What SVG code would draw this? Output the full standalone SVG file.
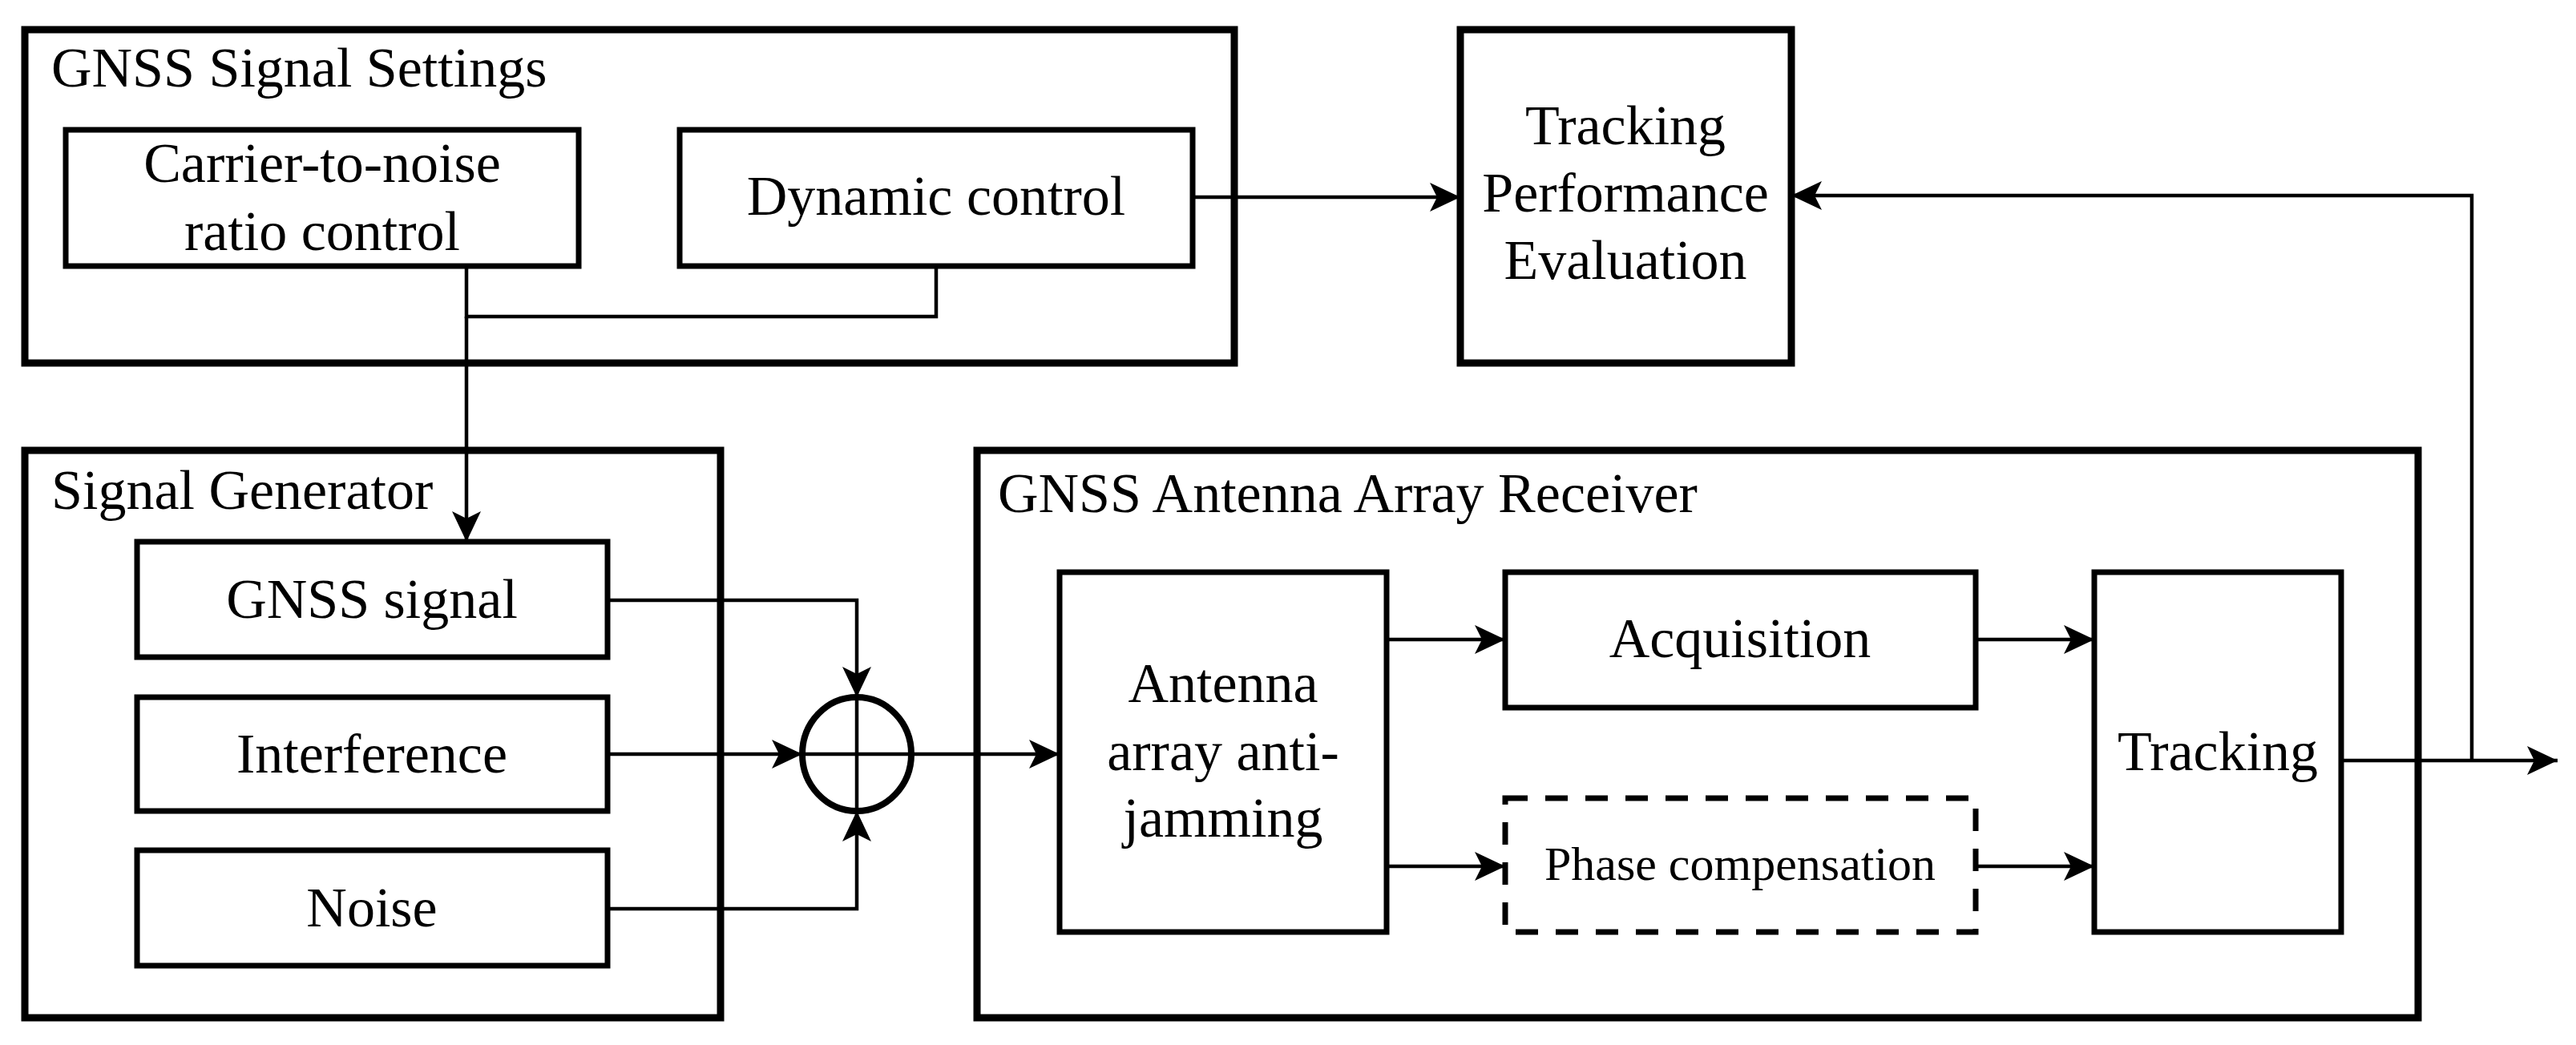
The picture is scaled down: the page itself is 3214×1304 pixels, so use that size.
<svg xmlns="http://www.w3.org/2000/svg" width="3214" height="1304" viewBox="0 0 3214 1304">
<style>
text{font-family:"Liberation Serif","Times New Roman",serif;font-size:70px;fill:#000}
.c{text-anchor:middle}
.outer{fill:none;stroke:#000;stroke-width:9}
.box{fill:none;stroke:#000;stroke-width:7}
.dash{fill:none;stroke:#000;stroke-width:7;stroke-dasharray:28 22}
.ln{fill:none;stroke:#000;stroke-width:4.5}
</style>
<defs>
<marker id="ah" markerUnits="userSpaceOnUse" markerWidth="40" markerHeight="36" refX="38" refY="18" orient="auto">
<path d="M0,0 L38,18 L0,36 L9,18 Z" fill="#000"/>
</marker>
</defs>
<rect width="3214" height="1304" fill="#fff"/>
<g id="settings">
<rect class="outer" x="31" y="37" width="1509" height="416"/>
<text x="64" y="108">GNSS Signal Settings</text>
</g>
<g id="cn">
<rect class="box" x="82" y="162" width="640" height="170"/>
<text class="c" x="402" y="227">Carrier-to-noise</text>
<text class="c" x="402" y="312">ratio control</text>
</g>
<g id="dyn">
<rect class="box" x="848" y="162" width="640" height="170"/>
<text class="c" x="1168" y="268">Dynamic control</text>
</g>
<g id="tpe">
<rect class="outer" x="1822" y="37" width="413" height="416"/>
<text class="c" x="2028" y="180">Tracking</text>
<text class="c" x="2028" y="264">Performance</text>
<text class="c" x="2028" y="348">Evaluation</text>
</g>
<g id="siggen">
<rect class="outer" x="31" y="562" width="868" height="708"/>
<text x="64" y="635">Signal Generator</text>
</g>
<g id="gnss"><rect class="box" x="171" y="676" width="587" height="144"/><text class="c" x="464" y="771">GNSS signal</text></g>
<g id="intf"><rect class="box" x="171" y="870" width="587" height="142"/><text class="c" x="464" y="964">Interference</text></g>
<g id="noise"><rect class="box" x="171" y="1061" width="587" height="144"/><text class="c" x="464" y="1156">Noise</text></g>
<g id="sum">
<ellipse cx="1069" cy="941" rx="68" ry="71" fill="none" stroke="#000" stroke-width="8"/>
<path class="ln" d="M1069,870 V1012 M1001,941 H1137"/>
</g>
<g id="receiver">
<rect class="outer" x="1219" y="562" width="1798" height="708"/>
<text x="1245" y="639">GNSS Antenna Array Receiver</text>
</g>
<g id="anti">
<rect class="box" x="1322" y="714" width="408" height="449"/>
<text class="c" x="1526" y="876">Antenna</text>
<text class="c" x="1526" y="961">array anti-</text>
<text class="c" x="1526" y="1044">jamming</text>
</g>
<g id="acq"><rect class="box" x="1878" y="714" width="587" height="169"/><text class="c" x="2171" y="820">Acquisition</text></g>
<g id="phase"><rect class="dash" x="1878" y="996" width="587" height="167"/><text class="c" x="2171" y="1098" style="font-size:60px">Phase compensation</text></g>
<g id="track"><rect class="box" x="2613" y="714" width="308" height="449"/><text class="c" x="2767" y="961">Tracking</text></g>
<g id="connectors">
<path class="ln" d="M1488,246 H1822" marker-end="url(#ah)"/>
<path class="ln" d="M582,332 V395 H1168 V332"/>
<path class="ln" d="M582,395 V676" marker-end="url(#ah)"/>
<path class="ln" d="M758,749 H1069 V870" marker-end="url(#ah)"/>
<path class="ln" d="M758,1134 H1069 V1012" marker-end="url(#ah)"/>
<path class="ln" d="M758,941 H1001" marker-end="url(#ah)"/>
<path class="ln" d="M1137,941 H1322" marker-end="url(#ah)"/>
<path class="ln" d="M1730,798 H1878" marker-end="url(#ah)"/>
<path class="ln" d="M1730,1081 H1878" marker-end="url(#ah)"/>
<path class="ln" d="M2465,798 H2613" marker-end="url(#ah)"/>
<path class="ln" d="M2465,1081 H2613" marker-end="url(#ah)"/>
<path class="ln" d="M2921,949 H3191" marker-end="url(#ah)"/>
<path class="ln" d="M3084,949 V244 H2235" marker-end="url(#ah)"/>
</g>
</svg>
